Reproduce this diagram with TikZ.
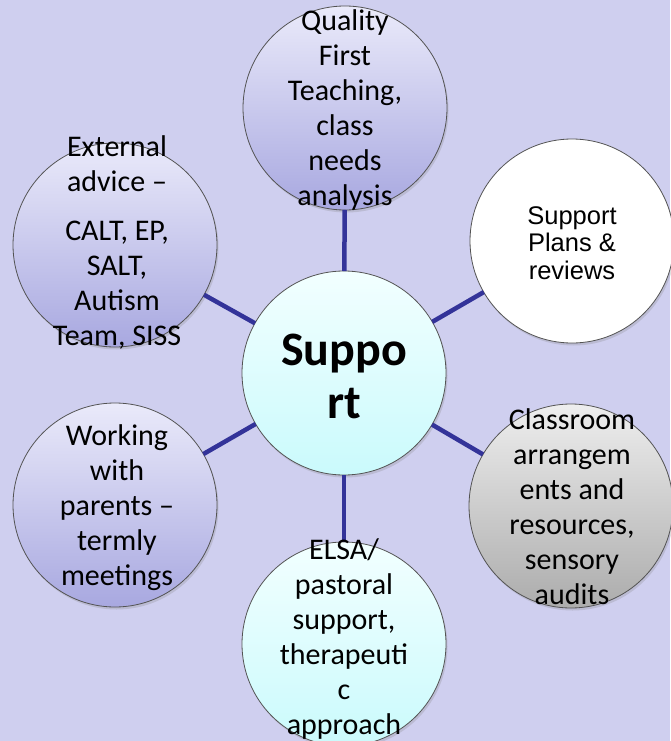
\documentclass[tikz,border=0pt]{standalone}
\usepackage{fontspec}
\setmainfont{Carlito}
\newfontfamily\arialfont{Liberation Sans}
\usetikzlibrary{shadows}
\definecolor{bgcol}{RGB}{207,207,239}
\definecolor{lavtop}{RGB}{234,234,250}
\definecolor{lavbot}{RGB}{168,168,224}
\definecolor{cyantop}{RGB}{242,255,255}
\definecolor{cyanbot}{RGB}{202,250,252}
\definecolor{graytop}{RGB}{238,238,238}
\definecolor{graybot}{RGB}{172,172,172}
\definecolor{linkcol}{RGB}{51,51,153}
\tikzset{
  bubble/.style={circle, minimum size=204pt, inner sep=0pt, outer sep=0pt,
    draw=gray!65!black, line width=0.8pt,
    drop shadow={opacity=0.25, shadow xshift=1.5pt, shadow yshift=-2.5pt}},
  lav/.style={bubble, top color=lavtop, bottom color=lavbot},
  cyanb/.style={bubble, top color=cyantop, bottom color=cyanbot},
  grayb/.style={bubble, top color=graytop, bottom color=graybot},
  whiteb/.style={bubble, fill=white},
  txt/.style={align=center, inner sep=0pt, font=\fontsize{30}{35}\selectfont},
  link/.style={draw=linkcol, line width=4.5pt}
}
\begin{document}
\begin{tikzpicture}[x=1pt,y=-1pt]
\useasboundingbox (0,0) rectangle (670,741);
\fill[bgcol] (0,0) rectangle (670,741);
% bubbles
\node[cyanb] (c) at (344,373) {};
\node[lav] (q) at (345,108) {};
\node[whiteb] (sp) at (572,241) {};
\node[grayb] (cr) at (571,506) {};
\node[cyanb] (el) at (344,644) {};
\node[lav] (wp) at (115,505) {};
\node[lav] (ea) at (115,245) {};
% connectors
\draw[link] (c) -- (q);
\draw[link] (c) -- (sp);
\draw[link] (c) -- (cr);
\draw[link] (c) -- (el);
\draw[link] (c) -- (wp);
\draw[link] (c) -- (ea);
% texts
\node[txt, font=\bfseries\fontsize{48}{53}\selectfont] (ct) at (344,376) {Suppo\\rt};
\node[txt] (qt) at (345,110) {Quality\\First\\Teaching,\\class\\needs\\analysis};
\node[txt, font=\arialfont\fontsize{25.5}{27.5}\selectfont] (spt) at (572,243) {Support\\Plans \&\\reviews};
\node[txt] (crt) at (572,507) {Classroom\\arrangem\\ents and\\resources,\\sensory\\audits};
\node[txt] (elt) at (344,639) {ELSA/\\pastoral\\support,\\therapeuti\\c\\approach};
\node[txt] (wpt) at (117,508) {Working\\with\\parents --\\termly\\meetings};
\node[txt] (eat) at (117,243) {External\\advice --\\[14pt]CALT, EP,\\SALT,\\Autism\\Team, SISS};
\end{tikzpicture}
\end{document}
